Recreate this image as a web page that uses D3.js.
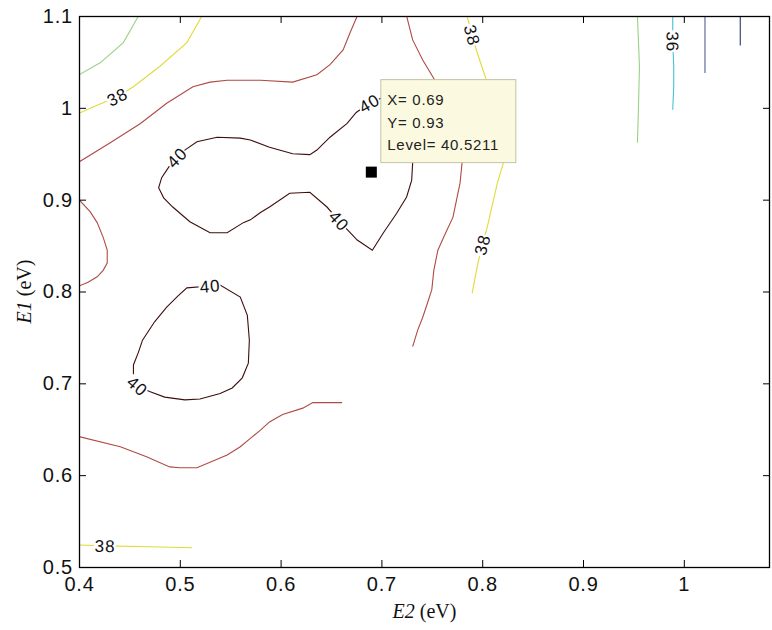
<!DOCTYPE html>
<html>
<head>
<meta charset="utf-8">
<script src="https://cdn.jsdelivr.net/npm/d3@7"></script>
<style>
  html, body { margin: 0; padding: 0; background: #fff; }
  svg { display: block; }
  .tick text { font-family: "Liberation Sans", Arial, sans-serif; }
</style>
</head>
<body>
<svg id="chart" width="772" height="630"></svg>
<script>
// ---- axes ----
const xDomain = [0.4, 1.0855];
const yDomain = [0.5, 1.1];
const xTicks = [0.4, 0.5, 0.6, 0.7, 0.8, 0.9, 1.0];
const yTicks = [0.5, 0.6, 0.7, 0.8, 0.9, 1.0, 1.1];

// ---- contour levels ----
const levels = [34, 35, 36, 37, 38, 39, 40];

// ---- contour polylines, points are [E2, E1] in eV ----
const c34 = [[1.056, 1.100], [1.056, 1.068]];
const c35 = [[1.021, 1.100], [1.021, 1.038]];
const c36 = [[0.989, 1.100], [0.989, 1.072], [0.990, 1.045], [0.990, 1.023], [0.989, 0.998]];
const c37a = [[0.400, 1.036], [0.421, 1.049], [0.444, 1.071], [0.459, 1.100]];
const c37b = [[0.954, 1.100], [0.956, 1.045], [0.955, 1.000], [0.954, 0.962]];
const c38a = [[0.400, 0.994], [0.414, 1.001], [0.438, 1.012], [0.454, 1.023], [0.480, 1.045],
              [0.507, 1.071], [0.522, 1.100]];
const c38b = [[0.400, 0.524], [0.426, 0.523], [0.470, 0.522], [0.512, 0.521]];
const c38c = [[0.785, 1.100], [0.790, 1.079], [0.795, 1.060], [0.803, 1.034], [0.811, 1.009],
              [0.818, 0.976], [0.821, 0.940], [0.815, 0.918], [0.810, 0.894], [0.805, 0.870],
              [0.800, 0.851], [0.795, 0.827], [0.790, 0.798]];
const c39a = [[0.400, 0.941], [0.431, 0.962], [0.461, 0.983], [0.487, 1.005], [0.513, 1.023],
              [0.530, 1.028], [0.547, 1.030], [0.580, 1.030], [0.612, 1.028], [0.636, 1.036],
              [0.649, 1.047], [0.662, 1.063], [0.669, 1.082], [0.676, 1.100]];
const c39b = [[0.400, 0.900], [0.411, 0.887], [0.418, 0.875], [0.424, 0.859], [0.428, 0.845],
              [0.428, 0.831], [0.424, 0.823], [0.418, 0.816], [0.409, 0.810], [0.400, 0.806]];
const c39c = [[0.400, 0.642], [0.441, 0.631], [0.467, 0.620], [0.490, 0.609], [0.500, 0.608],
              [0.517, 0.608], [0.547, 0.622], [0.560, 0.631], [0.570, 0.640], [0.580, 0.649],
              [0.589, 0.658], [0.602, 0.666], [0.622, 0.673], [0.632, 0.679], [0.661, 0.679]];
const c39d = [[0.725, 1.100], [0.731, 1.074], [0.741, 1.052], [0.753, 1.030], [0.766, 0.998],
              [0.775, 0.965], [0.780, 0.940], [0.778, 0.918], [0.771, 0.881], [0.763, 0.862],
              [0.756, 0.845], [0.752, 0.823], [0.750, 0.802], [0.745, 0.785], [0.741, 0.772],
              [0.736, 0.758], [0.731, 0.740]];
const c40a = [[0.731, 0.940], [0.733, 0.965], [0.723, 0.992], [0.709, 1.006], [0.701, 1.011],
              [0.688, 1.005], [0.675, 0.995], [0.666, 0.983], [0.649, 0.968], [0.636, 0.954],
              [0.629, 0.949], [0.612, 0.950], [0.589, 0.957], [0.570, 0.965], [0.560, 0.967],
              [0.537, 0.968], [0.517, 0.963], [0.505, 0.954], [0.497, 0.946], [0.490, 0.937],
              [0.482, 0.924], [0.479, 0.913], [0.484, 0.902], [0.493, 0.892], [0.510, 0.876],
              [0.530, 0.864], [0.547, 0.864], [0.563, 0.875], [0.570, 0.878], [0.580, 0.886],
              [0.589, 0.892], [0.609, 0.907], [0.629, 0.908], [0.646, 0.892], [0.658, 0.877],
              [0.676, 0.856], [0.691, 0.845], [0.702, 0.864], [0.715, 0.885], [0.725, 0.903],
              [0.730, 0.921]];
const c40b = [[0.507, 0.804], [0.530, 0.806], [0.540, 0.807], [0.560, 0.794], [0.567, 0.774],
              [0.569, 0.747], [0.568, 0.722], [0.562, 0.706], [0.552, 0.695], [0.540, 0.689],
              [0.520, 0.683], [0.505, 0.682], [0.485, 0.685], [0.470, 0.691], [0.458, 0.697],
              [0.454, 0.706], [0.454, 0.720], [0.459, 0.734], [0.463, 0.747], [0.475, 0.767],
              [0.487, 0.783], [0.498, 0.795]];

const contourLines = [
  { level: 34, pts: c34 }, { level: 35, pts: c35 }, { level: 36, pts: c36 },
  { level: 37, pts: c37a }, { level: 37, pts: c37b },
  { level: 38, pts: c38a }, { level: 38, pts: c38b }, { level: 38, pts: c38c },
  { level: 39, pts: c39a }, { level: 39, pts: c39b }, { level: 39, pts: c39c }, { level: 39, pts: c39d },
  { level: 40, pts: c40a, closed: true }, { level: 40, pts: c40b, closed: true }
];

// inline level labels: which line, and where on it (E2, E1)
const labelLines = [c38a, c38b, c38c, c38c, c36, c40a, c40a, c40a, c40b, c40b];
const labelLevels = [38, 38, 38, 38, 36, 40, 40, 40, 40, 40];
const labelAt = [[0.438, 1.012], [0.426, 0.523], [0.790, 1.079], [0.800, 0.851], [0.989, 1.072],
                 [0.497, 0.946], [0.688, 1.005], [0.658, 0.877], [0.530, 0.806], [0.458, 0.697]];

// data cursor readout
const cursorX = 0.69, cursorY = 0.93, cursorLevel = 40.5211;

// ---- styling ----
const levelColor = {
  34: "#2c3468", 35: "#52609a", 36: "#46c2d2", 37: "#98d282",
  38: "#e2da3a", 39: "#b04a44", 40: "#3e0e0e"
};

const margin = { left: 79, right: 2, top: 16, bottom: 63 };
const W = 772, H = 630;
const svg = d3.select("#chart");

const x = d3.scaleLinear().domain(xDomain).range([margin.left, W - margin.right]);
const y = d3.scaleLinear().domain(yDomain).range([H - margin.bottom, margin.top]);

svg.append("defs").append("clipPath").attr("id", "plotclip")
  .append("rect")
  .attr("x", x.range()[0]).attr("y", y.range()[1])
  .attr("width", x.range()[1] - x.range()[0])
  .attr("height", y.range()[0] - y.range()[1]);

const plot = svg.append("g").attr("clip-path", "url(#plotclip)");

// contour lines
const line = d3.line().x(d => x(d[0])).y(d => y(d[1]));
const lineClosed = d3.line().x(d => x(d[0])).y(d => y(d[1])).curve(d3.curveLinearClosed);

plot.selectAll("path.contour")
  .data(contourLines)
  .join("path")
  .attr("class", "contour")
  .attr("d", d => (d.closed ? lineClosed : line)(d.pts))
  .attr("fill", "none")
  .attr("stroke", d => levelColor[d.level])
  .attr("stroke-width", 1.1);

// labels sit on the nearest vertex, rotated along the line, with a gap cut in the line
labelAt.forEach((pos, i) => {
  const pts = labelLines[i];
  let best = 0, bd = Infinity;
  pts.forEach((p, j) => {
    const dd = (p[0] - pos[0]) ** 2 + (p[1] - pos[1]) ** 2;
    if (dd < bd) { bd = dd; best = j; }
  });
  const n = pts.length;
  const closed = pts === c40a || pts === c40b;
  const prev = closed ? pts[(best - 1 + n) % n] : pts[Math.max(0, best - 1)];
  const next = closed ? pts[(best + 1) % n] : pts[Math.min(n - 1, best + 1)];
  let ang = Math.atan2(y(next[1]) - y(prev[1]), x(next[0]) - x(prev[0])) * 180 / Math.PI;
  if (ang > 92) ang -= 180;
  if (ang <= -88) ang += 180;
  const cx = x(pts[best][0]), cy = y(pts[best][1]);
  const g = plot.append("g").attr("transform", `translate(${cx},${cy}) rotate(${ang})`);
  const t = g.append("text")
    .attr("text-anchor", "middle")
    .attr("dy", "0.36em")
    .attr("font-family", "'Liberation Sans', Arial, sans-serif")
    .attr("font-size", 17)
    .attr("letter-spacing", 1)
    .attr("fill", "#111")
    .text(String(labelLevels[i]));
  const bb = t.node().getBBox();
  g.insert("rect", "text")
    .attr("x", bb.x - 1).attr("y", -6.5)
    .attr("width", bb.width + 1).attr("height", 13)
    .attr("fill", "#fff");
});

// ---- axes with inward ticks on all four sides ----
const fmt = d => String(d);
const tickLen = 7;
const fontTicks = 20;

const gx = svg.append("g").attr("transform", `translate(0,${y.range()[0]})`)
  .call(d3.axisBottom(x).tickValues(xTicks).tickFormat(fmt).tickSizeInner(-tickLen).tickSizeOuter(0).tickPadding(10));
const gy = svg.append("g").attr("transform", `translate(${x.range()[0]},0)`)
  .call(d3.axisLeft(y).tickValues(yTicks).tickFormat(fmt).tickSizeInner(-tickLen).tickSizeOuter(0).tickPadding(6));
const gt = svg.append("g").attr("transform", `translate(0,${y.range()[1]})`)
  .call(d3.axisTop(x).tickValues(xTicks).tickFormat("").tickSizeInner(-tickLen).tickSizeOuter(0));
const gr = svg.append("g").attr("transform", `translate(${x.range()[1]},0)`)
  .call(d3.axisRight(y).tickValues(yTicks).tickFormat("").tickSizeInner(-tickLen).tickSizeOuter(0));

[gx, gy, gt, gr].forEach(g => {
  g.select(".domain").remove();
  g.selectAll(".tick line").attr("stroke", "#000").attr("stroke-width", 1);
  g.selectAll(".tick text").attr("font-size", fontTicks).attr("letter-spacing", 0.8).attr("fill", "#111");
});

svg.append("rect")
  .attr("x", x.range()[0] + 0.5).attr("y", y.range()[1] + 0.5)
  .attr("width", x.range()[1] - x.range()[0] - 1)
  .attr("height", y.range()[0] - y.range()[1])
  .attr("fill", "none").attr("stroke", "#000").attr("stroke-width", 1.3);

// axis titles
const xt = svg.append("text")
  .attr("x", (x.range()[0] + x.range()[1]) / 2).attr("y", 618)
  .attr("text-anchor", "middle")
  .attr("font-family", "'Liberation Serif', 'Times New Roman', serif")
  .attr("font-size", 20).attr("fill", "#111");
xt.append("tspan").attr("font-style", "italic").text("E2");
xt.append("tspan").text(" (eV)");

const yt = svg.append("text")
  .attr("transform", `translate(31,${(y.range()[0] + y.range()[1]) / 2}) rotate(-90)`)
  .attr("text-anchor", "middle")
  .attr("font-family", "'Liberation Serif', 'Times New Roman', serif")
  .attr("font-size", 20).attr("fill", "#111");
yt.append("tspan").attr("font-style", "italic").text("E1");
yt.append("tspan").text(" (eV)");

// ---- data cursor: marker and readout box ----
const mx = x(cursorX), my = y(cursorY);
svg.append("rect")
  .attr("x", mx - 5.5).attr("y", my - 5.5)
  .attr("width", 11).attr("height", 11)
  .attr("fill", "#000");

const tip = svg.append("g").attr("transform", `translate(${mx + 9},${my - 9})`);
tip.append("rect")
  .attr("x", 0.5).attr("y", -83.5)
  .attr("width", 135).attr("height", 83)
  .attr("fill", "#fbfae0").attr("stroke", "#c4c3a6").attr("stroke-width", 1);
const tipLines = [`X= ${cursorX}`, `Y= ${cursorY}`, `Level= ${cursorLevel}`];
tip.selectAll("text.tip")
  .data(tipLines)
  .join("text")
  .attr("class", "tip")
  .attr("x", 7)
  .attr("y", (d, i) => -58 + i * 22.5)
  .attr("font-family", "'Liberation Sans', Arial, sans-serif")
  .attr("font-size", 15)
  .attr("letter-spacing", 0.7)
  .attr("fill", "#222")
  .text(d => d);
</script>
</body>
</html>
